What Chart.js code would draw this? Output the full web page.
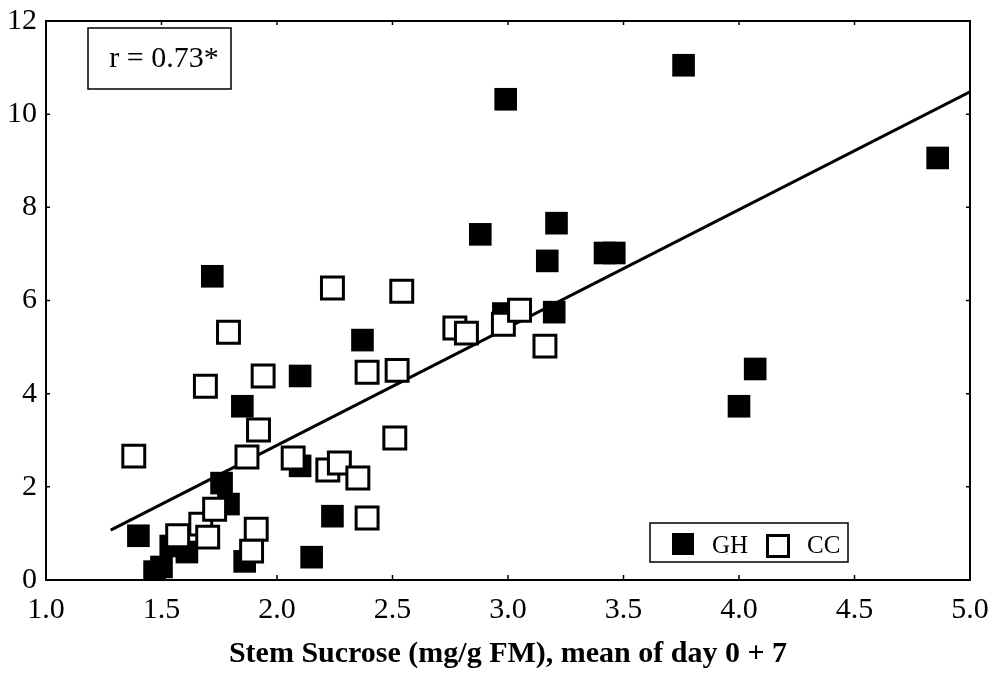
<!DOCTYPE html>
<html>
<head>
<meta charset="utf-8">
<script src="https://cdn.jsdelivr.net/npm/chart.js@4.4.0/dist/chart.umd.min.js"></script>
<style>
  html, body { margin: 0; padding: 0; background: #fff; }
</style>
</head>
<body>
<canvas id="sucroseChart" width="995" height="675"></canvas>
<script>
// GH = filled squares, CC = open squares
const ghX = [1.40, 1.47, 1.50, 1.54, 1.61, 1.72, 1.76, 1.79, 1.85, 1.86, 2.10, 2.10, 2.15, 2.24, 2.37, 2.88, 2.99, 2.98, 3.17, 3.21, 3.20, 3.42, 3.46, 3.76, 4.86, 4.00, 4.07];
const ghY = [0.95, 0.18, 0.28, 0.73, 0.60, 6.52, 2.08, 1.63, 3.73, 0.40, 4.38, 2.45, 0.49, 1.37, 5.15, 7.42, 10.32, 5.72, 6.85, 7.66, 5.75, 7.02, 7.02, 11.05, 9.06, 3.73, 4.53];

const ccX = [1.38, 1.57, 1.67, 1.70, 1.73, 1.69, 1.79, 1.94, 1.92, 1.87, 1.91, 1.89, 2.07, 2.24, 2.22, 2.27, 2.35, 2.39, 2.51, 2.39, 2.52, 2.54, 2.77, 2.82, 2.98, 3.05, 3.16];
const ccY = [2.66, 0.95, 1.20, 0.92, 1.52, 4.16, 5.32, 4.38, 3.22, 2.64, 1.09, 0.62, 2.62, 6.27, 2.36, 2.51, 2.19, 1.33, 3.05, 4.46, 4.50, 6.20, 5.41, 5.30, 5.49, 5.79, 5.02];

const fitX = [1.28, 5.0];
const fitY = [1.07, 10.48];

const xTicks = [1.0, 1.5, 2.0, 2.5, 3.0, 3.5, 4.0, 4.5, 5.0];
const yTicks = [0, 2, 4, 6, 8, 10, 12];

const seriesNames = ["GH", "CC"];
const corrLabel = "r = 0.73*";
const xTitle = "Stem Sucrose (mg/g FM), mean of day 0 + 7";

const serif = "'Liberation Serif', 'Times New Roman', serif";

function toPoints(xs, ys) {
  return xs.map((x, i) => ({ x: x, y: ys[i] }));
}

// frame, inward ticks, correlation box and legend
const framePlugin = {
  id: "frameAndNotes",
  afterDraw(chart) {
    const ctx = chart.ctx;
    const area = chart.chartArea;
    const xs = chart.scales.x;
    const ys = chart.scales.y;
    ctx.save();
    ctx.strokeStyle = "#000";
    ctx.lineWidth = 2;
    ctx.strokeRect(area.left, area.top, area.right - area.left, area.bottom - area.top);

    ctx.lineWidth = 1.5;
    ctx.beginPath();
    xTicks.forEach((v) => {
      const px = xs.getPixelForValue(v);
      ctx.moveTo(px, area.bottom); ctx.lineTo(px, area.bottom - 5);
      ctx.moveTo(px, area.top); ctx.lineTo(px, area.top + 4);
    });
    yTicks.forEach((v) => {
      const py = ys.getPixelForValue(v);
      ctx.moveTo(area.left, py); ctx.lineTo(area.left + 4, py);
      ctx.moveTo(area.right, py); ctx.lineTo(area.right - 4, py);
    });
    ctx.stroke();

    // r box
    ctx.fillStyle = "#fff";
    ctx.fillRect(area.left + 42, area.top + 7, 143, 61);
    ctx.lineWidth = 1.5;
    ctx.strokeRect(area.left + 42, area.top + 7, 143, 61);
    ctx.fillStyle = "#000";
    ctx.font = "30px " + serif;
    ctx.textAlign = "center";
    ctx.textBaseline = "middle";
    ctx.fillText(corrLabel, area.left + 118, area.top + 38);

    // legend
    const lx = area.right - 320, ly = area.bottom - 57;
    ctx.fillStyle = "#fff";
    ctx.fillRect(lx, ly, 198, 39);
    ctx.strokeRect(lx, ly, 198, 39);
    ctx.fillStyle = "#000";
    ctx.fillRect(lx + 22, ly + 10, 22, 22);
    ctx.lineWidth = 3;
    ctx.strokeRect(lx + 117.5, ly + 12.5, 21, 21);
    ctx.font = "25px " + serif;
    ctx.textAlign = "left";
    ctx.textBaseline = "alphabetic";
    ctx.fillText(seriesNames[0], lx + 62, ly + 30);
    ctx.fillText(seriesNames[1], lx + 157, ly + 30);
    ctx.restore();
  }
};

const chart = new Chart(document.getElementById("sucroseChart"), {
  type: "scatter",
  data: {
    datasets: [
      {
        label: seriesNames[1],
        data: toPoints(ccX, ccY),
        pointStyle: "rect",
        pointRadius: 15.5,
        pointHoverRadius: 15.5,
        backgroundColor: "#fff",
        borderColor: "#000",
        borderWidth: 3,
        order: 0,
      },
      {
        label: seriesNames[0],
        data: toPoints(ghX, ghY),
        pointStyle: "rect",
        pointRadius: 16,
        pointHoverRadius: 16,
        backgroundColor: "#000",
        borderColor: "#000",
        borderWidth: 0,
        order: 1,
      },
      {
        type: "line",
        label: "fit",
        data: toPoints(fitX, fitY),
        borderColor: "#000",
        borderWidth: 3,
        pointRadius: 0,
        fill: false,
        order: 2,
      },
    ],
  },
  options: {
    responsive: false,
    animation: false,
    layout: { padding: { top: 21, right: 25, left: 0, bottom: 0 } },
    scales: {
      x: {
        type: "linear",
        min: 1.0,
        max: 5.0,
        afterBuildTicks: (scale) => { scale.ticks = xTicks.map((v) => ({ value: v })); },
        afterFit: (scale) => {
          scale.height = 95;
          scale.paddingLeft = 0;
          scale.paddingRight = 0;
        },
        ticks: {
          color: "#000",
          padding: 12,
          font: { family: serif, size: 30 },
          callback: (v) => Number(v).toFixed(1),
        },
        grid: { display: false, drawTicks: false },
        border: { display: false },
        title: {
          display: true,
          text: xTitle,
          color: "#000",
          font: { family: serif, size: 30, weight: "bold" },
          padding: { top: 0, bottom: 3 },
        },
      },
      y: {
        type: "linear",
        min: 0,
        max: 12,
        afterBuildTicks: (scale) => { scale.ticks = yTicks.map((v) => ({ value: v })); },
        afterFit: (scale) => {
          scale.width = 46;
          scale.paddingTop = 0;
          scale.paddingBottom = 0;
        },
        ticks: {
          color: "#000",
          padding: 9,
          font: { family: serif, size: 30 },
        },
        grid: { display: false, drawTicks: false },
        border: { display: false },
      },
    },
    plugins: {
      legend: { display: false },
      tooltip: { enabled: false },
    },
  },
  plugins: [framePlugin],
});
</script>
</body>
</html>
